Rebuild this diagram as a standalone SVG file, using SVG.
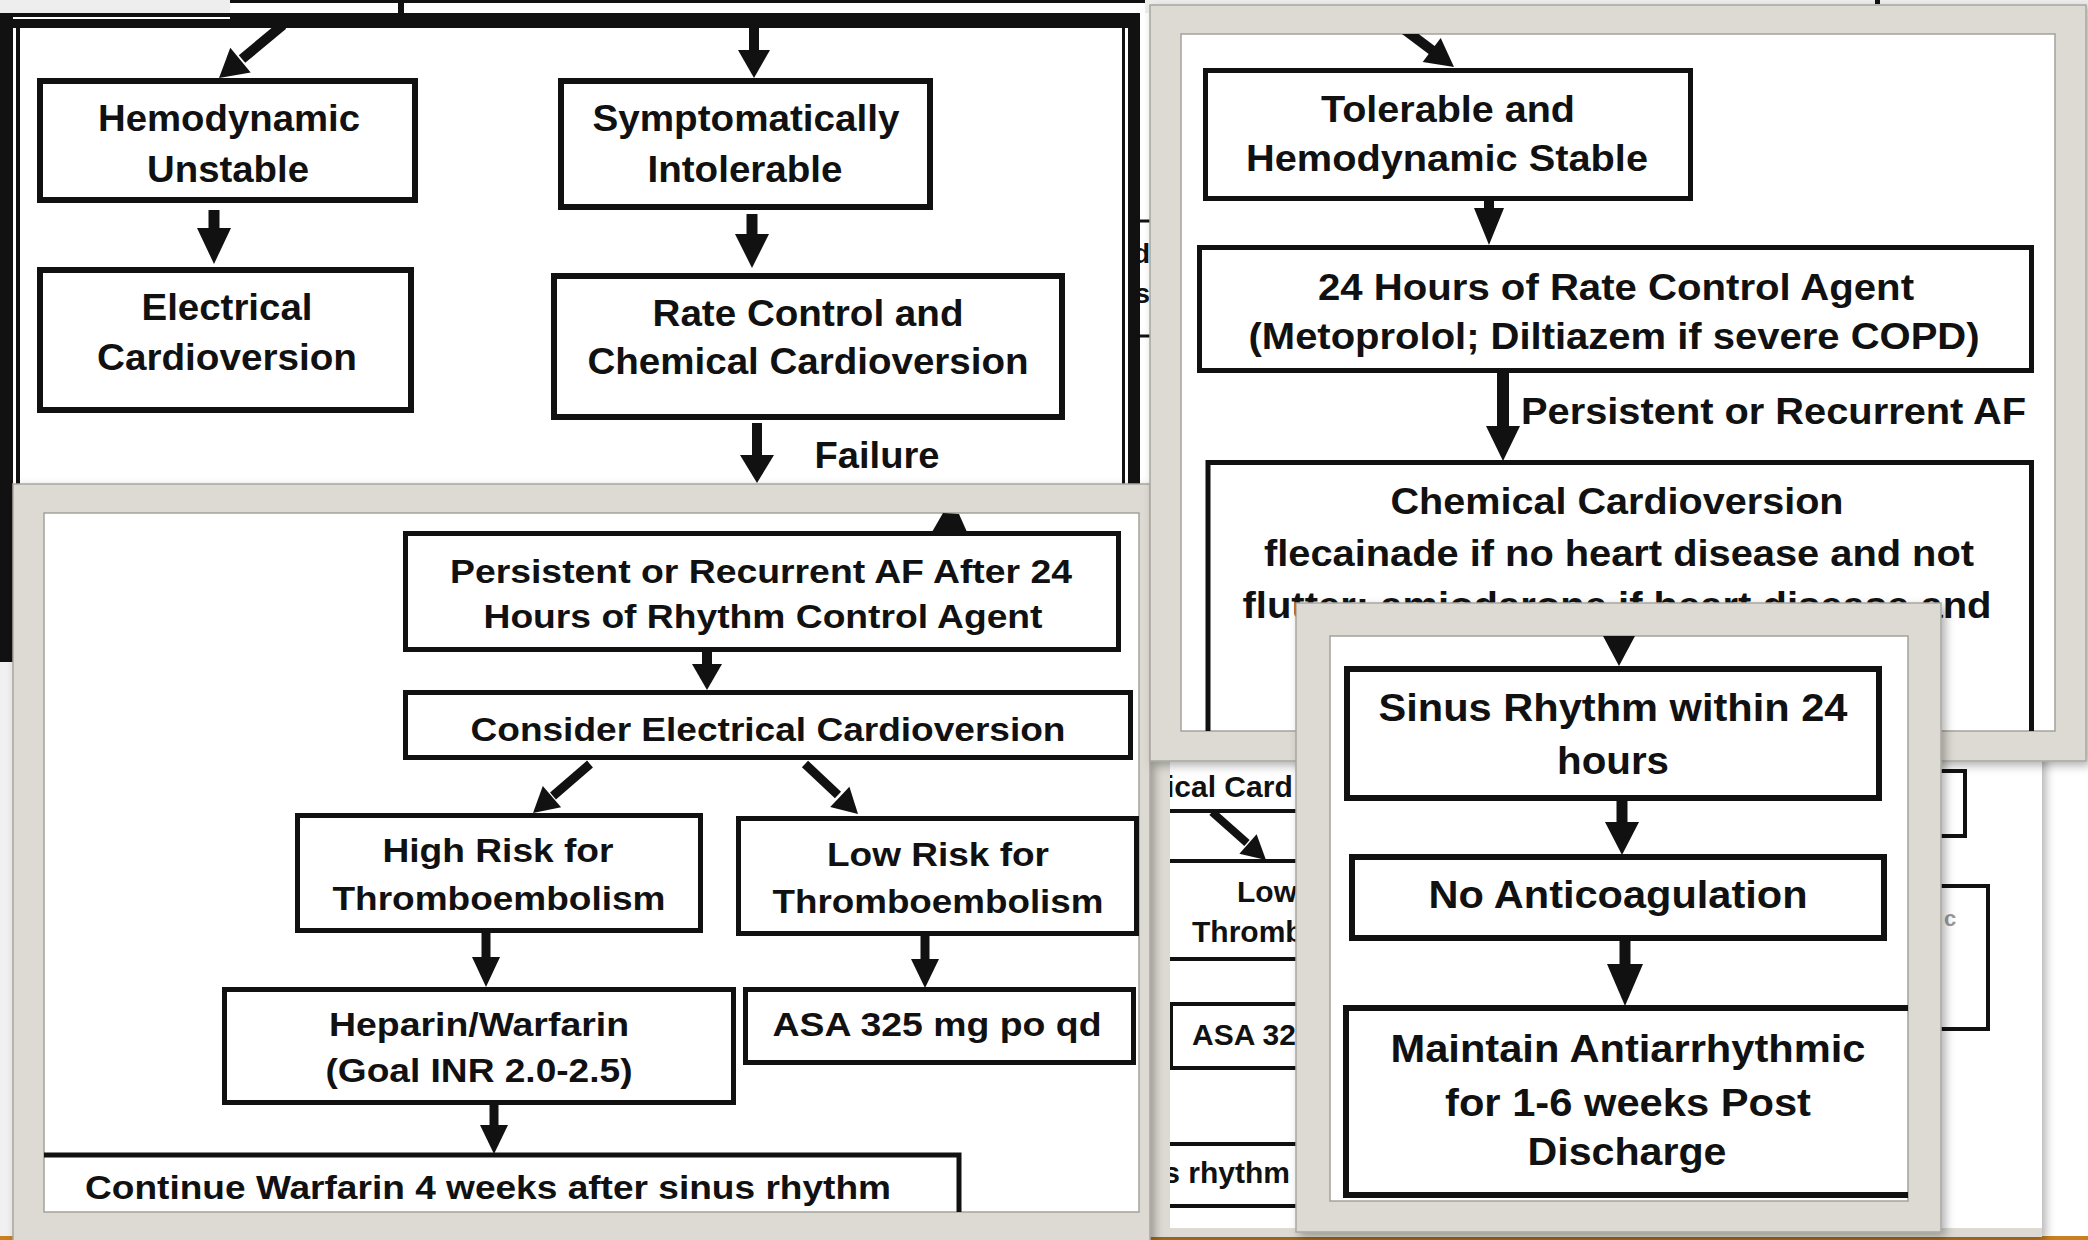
<svg xmlns="http://www.w3.org/2000/svg" width="2088" height="1240" viewBox="0 0 2088 1240">
<defs>
<style>
.t{font-family:"Liberation Sans",Arial,Helvetica,sans-serif;font-weight:bold;fill:#111;text-anchor:middle}
.ta{font-size:36px}.tb{font-size:33px}.tc{font-size:37px}.td{font-size:38px}.te{font-size:30px;text-anchor:start}
.box{fill:none;stroke:#111;stroke-linejoin:miter}
.s6{stroke-width:6}.s5{stroke-width:5}.s4{stroke-width:4}
.sh{stroke:#111;fill:none}
.hd{fill:#111}
.frame{fill:#dcdad2;stroke:#a9a79f;stroke-width:1.5}
.inner{fill:#fff;stroke:#a4a29a;stroke-width:1.5}
</style>
<filter id="shadow" x="-5%" y="-5%" width="112%" height="112%">
<feDropShadow dx="4" dy="4" stdDeviation="5" flood-color="#000" flood-opacity="0.3"/>
</filter>
<clipPath id="clipA"><rect x="20" y="28" width="1100" height="456"/></clipPath>
<clipPath id="clipB"><rect x="44" y="513" width="1095" height="699"/></clipPath>
<clipPath id="clipC"><rect x="1181" y="34" width="874" height="697"/></clipPath>
<clipPath id="clipD"><rect x="1330" y="636" width="578" height="565"/></clipPath>
<clipPath id="clipE"><rect x="1170" y="762" width="872" height="466"/></clipPath>
<clipPath id="clipF"><rect x="1140" y="200" width="10" height="150"/></clipPath>
</defs>

<!-- background -->
<rect x="0" y="0" width="2088" height="1240" fill="#ffffff"/>
<rect x="0" y="0" width="2088" height="13" fill="#eeeeee"/>
<rect x="230" y="0" width="915" height="13" fill="#ffffff"/>
<rect x="230" y="0" width="915" height="3" fill="#111"/>
<rect x="398" y="0" width="6" height="15" fill="#111"/>
<rect x="1875" y="0" width="5" height="4" fill="#111"/>
<rect x="0" y="660" width="14" height="580" fill="#f0f0f0"/>
<rect x="0" y="1236" width="2088" height="4" fill="#c8801e"/>

<!-- Panel A (top-left, black framed) -->
<g id="panelA">
<rect x="0" y="13" width="1140" height="15" fill="#111"/>
<rect x="0" y="13" width="13" height="649" fill="#111"/>
<rect x="13" y="17" width="217" height="2" fill="#fff"/>
<rect x="16" y="22" width="4" height="640" fill="#111"/>
<rect x="1122" y="13" width="3" height="471" fill="#111"/>
<rect x="1128" y="13" width="12" height="471" fill="#111"/>
<rect x="20" y="28" width="1102" height="456" fill="#fff"/>
<g clip-path="url(#clipA)">
<g id="nodeA1"><rect class="box s6" x="40" y="81" width="375" height="119"/>
<text class="t ta" x="229" y="131" textLength="262" lengthAdjust="spacingAndGlyphs">Hemodynamic</text>
<text class="t ta" x="228" y="182" textLength="162" lengthAdjust="spacingAndGlyphs">Unstable</text></g>
<g id="nodeA2"><rect class="box s6" x="40" y="270" width="371" height="140"/>
<text class="t ta" x="227" y="320" textLength="171" lengthAdjust="spacingAndGlyphs">Electrical</text>
<text class="t ta" x="227" y="370" textLength="260" lengthAdjust="spacingAndGlyphs">Cardioversion</text></g>
<g id="nodeA3"><rect class="box s6" x="561" y="81" width="369" height="126"/>
<text class="t ta" x="746" y="131" textLength="307" lengthAdjust="spacingAndGlyphs">Symptomatically</text>
<text class="t ta" x="745" y="182" textLength="195" lengthAdjust="spacingAndGlyphs">Intolerable</text></g>
<g id="nodeA4"><rect class="box s6" x="554" y="276" width="508" height="141"/>
<text class="t ta" x="808" y="326" textLength="311" lengthAdjust="spacingAndGlyphs">Rate Control and</text>
<text class="t ta" x="808" y="374" textLength="441" lengthAdjust="spacingAndGlyphs">Chemical Cardioversion</text></g>
<g id="connectorsA">
<line class="sh" x1="283" y1="25" x2="242" y2="59" stroke-width="10"/>
<polygon class="hd" points="219,78 250.7,72.4 230.3,47.8"/>
<line class="sh" x1="754" y1="25" x2="754" y2="52" stroke-width="10"/>
<polygon class="hd" points="738,50 770,50 754,78"/>
<line class="sh" x1="214" y1="210" x2="214" y2="230" stroke-width="11"/>
<polygon class="hd" points="197,228 231,228 214,264"/>
<line class="sh" x1="752" y1="214" x2="752" y2="236" stroke-width="11"/>
<polygon class="hd" points="735,234 769,234 752,268"/>
<line class="sh" x1="757" y1="423" x2="757" y2="458" stroke-width="10"/>
<polygon class="hd" points="740,455 774,455 757,483"/>
<text class="t ta" x="877" y="468" textLength="125" lengthAdjust="spacingAndGlyphs">Failure</text>
</g>
</g>
</g>

<!-- glimpses between panels -->
<g id="fragments">
<line x1="1128" y1="221" x2="1150" y2="221" stroke="#111" stroke-width="3"/>
<line x1="1128" y1="336" x2="1150" y2="336" stroke="#111" stroke-width="3"/>
<g clip-path="url(#clipF)">
<text class="t" x="1150" y="263" font-size="28" style="text-anchor:end">d</text>
<text class="t" x="1150" y="303" font-size="28" style="text-anchor:end">s</text>
</g>
</g>

<!-- Panel E (behind, lower right) -->
<g id="panelE" filter="url(#shadow)">
<rect x="1147" y="740" width="895" height="497" fill="#dcdad2"/>
<rect x="1170" y="740" width="872" height="488" fill="#fff"/>
</g>
<g clip-path="url(#clipE)">
<g id="nodeE1"><text class="t te" x="1166" y="797">ical Card</text>
<line x1="1170" y1="811" x2="1300" y2="811" stroke="#111" stroke-width="4"/></g>
<g id="nodeE2"><line x1="1170" y1="861" x2="1300" y2="861" stroke="#111" stroke-width="4"/>
<text class="t te" x="1237" y="902">Low</text>
<text class="t te" x="1192" y="942">Thromb</text>
<line x1="1170" y1="959" x2="1300" y2="959" stroke="#111" stroke-width="4"/></g>
<g id="nodeE3"><path class="box s4" d="M1300 1004 H1171 V1068 H1300"/>
<text class="t te" x="1192" y="1045">ASA 32</text></g>
<g id="nodeE4"><line x1="1170" y1="1144" x2="1300" y2="1144" stroke="#111" stroke-width="4"/>
<text class="t" x="1290" y="1183" font-size="30" style="text-anchor:end">s rhythm</text>
<line x1="1170" y1="1206" x2="1300" y2="1206" stroke="#111" stroke-width="4"/></g>
<g id="nodeE5"><path class="box s4" d="M1930 771 H1965 V836 H1930"/></g>
<g id="nodeE6"><path class="box s4" d="M1930 886 H1988 V1029 H1930"/>
<text class="t" x="1950" y="926" font-size="22" style="fill:#999">c</text></g>
<g id="connectorsE">
<line class="sh" x1="1212" y1="812" x2="1247" y2="843" stroke-width="8"/>
<polygon class="hd" points="1266,860 1239.4,853.7 1256.6,834.3"/>
</g>
</g>

<!-- Panel B (bottom-left) -->
<g id="panelB" filter="url(#shadow)">
<rect class="frame" x="13" y="484" width="1137" height="760"/>
<rect class="inner" x="44" y="513" width="1095" height="699"/>
</g>
<g clip-path="url(#clipB)">
<g id="nodeB1"><rect class="box s5" x="405.5" y="533.5" width="713" height="116"/>
<text class="t tb" x="761" y="583" textLength="622" lengthAdjust="spacingAndGlyphs">Persistent or Recurrent AF After 24</text>
<text class="t tb" x="763" y="628" textLength="559" lengthAdjust="spacingAndGlyphs">Hours of Rhythm Control Agent</text></g>
<g id="nodeB2"><rect class="box s5" x="405.5" y="692.5" width="725" height="65"/>
<text class="t tb" x="768" y="741" textLength="595" lengthAdjust="spacingAndGlyphs">Consider Electrical Cardioversion</text></g>
<g id="nodeB3"><rect class="box s5" x="297.5" y="815.5" width="403" height="115"/>
<text class="t tb" x="498" y="862" textLength="231" lengthAdjust="spacingAndGlyphs">High Risk for</text>
<text class="t tb" x="499" y="910" textLength="333" lengthAdjust="spacingAndGlyphs">Thromboembolism</text></g>
<g id="nodeB4"><rect class="box s5" x="738.5" y="818.5" width="398" height="115"/>
<text class="t tb" x="938" y="866" textLength="222" lengthAdjust="spacingAndGlyphs">Low Risk for</text>
<text class="t tb" x="938" y="913" textLength="331" lengthAdjust="spacingAndGlyphs">Thromboembolism</text></g>
<g id="nodeB5"><rect class="box s5" x="224.5" y="989.5" width="509" height="113"/>
<text class="t tb" x="479" y="1036" textLength="300" lengthAdjust="spacingAndGlyphs">Heparin/Warfarin</text>
<text class="t tb" x="479" y="1082" textLength="307" lengthAdjust="spacingAndGlyphs">(Goal INR 2.0-2.5)</text></g>
<g id="nodeB6"><rect class="box s5" x="745.5" y="989.5" width="388" height="73"/>
<text class="t tb" x="937" y="1036" textLength="329" lengthAdjust="spacingAndGlyphs">ASA 325 mg po qd</text></g>
<g id="nodeB7"><path class="box s5" d="M40 1155 H959 V1220"/>
<text class="t tb" x="488" y="1199" textLength="806" lengthAdjust="spacingAndGlyphs">Continue Warfarin 4 weeks after sinus rhythm</text></g>
<g id="connectorsB">
<polygon class="hd" points="932,532 967,532 959,514 943,513"/>
<line class="sh" x1="707" y1="652" x2="707" y2="668" stroke-width="10"/>
<polygon class="hd" points="692,664 722,664 707,690"/>
<line class="sh" x1="590" y1="764" x2="553" y2="796" stroke-width="9"/>
<polygon class="hd" points="533,813 561.1,807.3 542.8,786.1"/>
<line class="sh" x1="805" y1="764" x2="838" y2="795" stroke-width="9"/>
<polygon class="hd" points="858,814 830.2,807.1 849.4,786.7"/>
<line class="sh" x1="486" y1="933" x2="486" y2="960" stroke-width="9"/>
<polygon class="hd" points="472,957 500,957 486,987"/>
<line class="sh" x1="925" y1="936" x2="925" y2="962" stroke-width="9"/>
<polygon class="hd" points="911,959 939,959 925,988"/>
<line class="sh" x1="494" y1="1105" x2="494" y2="1128" stroke-width="9"/>
<polygon class="hd" points="480,1125 508,1125 494,1154"/>
</g>
</g>

<!-- Panel C (top-right) -->
<g id="panelC" filter="url(#shadow)">
<rect class="frame" x="1150" y="5" width="936" height="756"/>
<rect class="inner" x="1181" y="34" width="874" height="697"/>
</g>
<g clip-path="url(#clipC)">
<g id="nodeC1"><rect class="box s5" x="1205.5" y="70.5" width="485" height="128"/>
<text class="t tc" x="1448" y="122" textLength="254" lengthAdjust="spacingAndGlyphs">Tolerable and</text>
<text class="t tc" x="1447" y="171" textLength="402" lengthAdjust="spacingAndGlyphs">Hemodynamic Stable</text></g>
<g id="nodeC2"><rect class="box s5" x="1199.5" y="247.5" width="832" height="123"/>
<text class="t tc" x="1616" y="300" textLength="596" lengthAdjust="spacingAndGlyphs">24 Hours of Rate Control Agent</text>
<text class="t tc" x="1614" y="349" textLength="731" lengthAdjust="spacingAndGlyphs">(Metoprolol; Diltiazem if severe COPD)</text></g>
<g id="nodeC3"><path class="box s5" d="M1208 740 V462.5 H2031.5 V740"/>
<text class="t tc" x="1617" y="514" textLength="453" lengthAdjust="spacingAndGlyphs">Chemical Cardioversion</text>
<text class="t tc" x="1619" y="566" textLength="710" lengthAdjust="spacingAndGlyphs">flecainade if no heart disease and not</text>
<text class="t tc" x="1617" y="618" textLength="749" lengthAdjust="spacingAndGlyphs">flutter; amiodarone if heart disease and</text></g>
<g id="connectorsC">
<line class="sh" x1="1405" y1="30" x2="1433" y2="51" stroke-width="10"/>
<polygon class="hd" points="1454,67 1422.7,62.1 1440.7,38.1"/>
<line class="sh" x1="1489" y1="199" x2="1489" y2="212" stroke-width="10"/>
<polygon class="hd" points="1474,208 1504,208 1489,245"/>
<line class="sh" x1="1503" y1="373" x2="1503" y2="430" stroke-width="12"/>
<polygon class="hd" points="1486,426 1520,426 1503,461"/>
<text class="t tc" x="1521" y="424" style="text-anchor:start" textLength="505" lengthAdjust="spacingAndGlyphs">Persistent or Recurrent AF</text>
</g>
</g>

<!-- Panel D (front, bottom-right) -->
<g id="panelD" filter="url(#shadow)">
<rect class="frame" x="1296" y="603" width="645" height="629"/>
<rect class="inner" x="1330" y="636" width="578" height="565"/>
</g>
<g clip-path="url(#clipD)">
<g id="nodeD1"><rect class="box s6" x="1347" y="669" width="532" height="129"/>
<text class="t td" x="1613" y="721" textLength="469" lengthAdjust="spacingAndGlyphs">Sinus Rhythm within 24</text>
<text class="t td" x="1613" y="774" textLength="112" lengthAdjust="spacingAndGlyphs">hours</text></g>
<g id="nodeD2"><rect class="box s6" x="1352" y="857" width="532" height="81"/>
<text class="t td" x="1618" y="908" textLength="379" lengthAdjust="spacingAndGlyphs">No Anticoagulation</text></g>
<g id="nodeD3"><path class="box s6" d="M1915 1008 H1346 V1195 H1915"/>
<text class="t td" x="1628" y="1062" textLength="475" lengthAdjust="spacingAndGlyphs">Maintain Antiarrhythmic</text>
<text class="t td" x="1628" y="1116" textLength="366" lengthAdjust="spacingAndGlyphs">for 1-6 weeks Post</text>
<text class="t td" x="1627" y="1165" textLength="199" lengthAdjust="spacingAndGlyphs">Discharge</text></g>
<g id="connectorsD">
<polygon class="hd" points="1603,636 1635,636 1619,666"/>
<line class="sh" x1="1622" y1="800" x2="1622" y2="826" stroke-width="11"/>
<polygon class="hd" points="1605,822 1639,822 1622,855"/>
<line class="sh" x1="1625" y1="940" x2="1625" y2="968" stroke-width="11"/>
<polygon class="hd" points="1607,964 1643,964 1625,1006"/>
</g>
</g>
</svg>
